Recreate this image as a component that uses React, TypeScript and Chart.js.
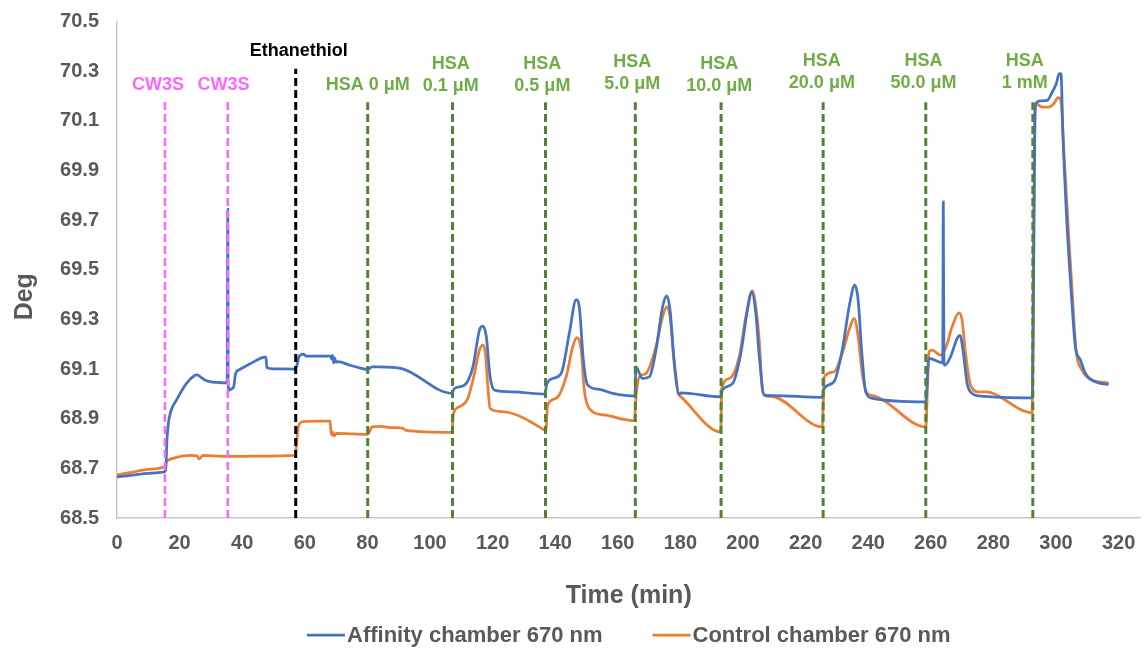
import { useEffect, useRef } from 'react';
import { Chart, registerables } from 'chart.js';

Chart.register(...registerables);

const FONT = '"Liberation Sans", Arial, Helvetica, sans-serif';

// ---- Data ----
const affinityTime = [
  0, 5, 10, 15.2, 15.6, 15.9, 16.4, 17.2, 19.0, 22.2, 24.9, 25.6, 27.0, 28.6, 31.8, 35.2, 35.4, 35.5, 35.8, 36.6,
  37.3, 37.9, 39.2, 42.4, 46.7, 47.6, 47.9, 50, 56.9, 57.6, 58.2, 59.5, 60.5, 65, 68.3, 68.6, 68.9, 69.2, 69.5, 70.0,
  70.6, 74.3, 77.5, 80.1, 81.5, 84, 91, 107.0, 107.8, 111, 113.7, 115.8, 116.9, 118, 119.2, 120.6, 126.5, 136.8,
  137.2, 139.2, 141.9, 144.5, 146.7, 147.7, 149, 150.4, 154.1, 158.4, 165.5, 165.8, 166.3, 167.9, 170.1, 172.2,
  174.3, 175.6, 176.7, 178, 179.6, 180.2, 192.9, 193.5, 196.7, 199.3, 201.4, 202.8, 204.1, 205.2, 206.8, 209.4,
  225.3, 225.9, 229.1, 231.7, 234.1, 235.7, 236.8, 237.9, 239.2, 241.3, 258.4, 259.4, 262.6, 263.8, 264.0, 264.2,
  264.5, 266.3, 268.4, 269.3, 270.3, 271.6, 273.2, 275.4, 292.4, 293.3, 293.6, 295, 297.2, 298.8, 300.1, 301,
  301.6, 302.2, 303.5, 304.9, 306.2, 307.8, 309.4, 311.5, 314.2, 316.8,
];
const affinityDeg = [
  68.666, 68.673, 68.68, 68.686, 68.7, 68.8, 68.88, 68.93, 68.975, 69.042, 69.075, 69.077, 69.065, 69.053, 69.046,
  69.044, 69.743, 69.05, 69.015, 69.02, 69.03, 69.082, 69.098, 69.12, 69.147, 69.148, 69.105, 69.101, 69.1, 69.12,
  69.152, 69.16, 69.152, 69.152, 69.152, 69.14, 69.155, 69.125, 69.145, 69.128, 69.13, 69.116, 69.105, 69.098,
  69.109, 69.109, 69.102, 69.002, 69.022, 69.035, 69.109, 69.257, 69.273, 69.23, 69.069, 69.015, 69.008, 68.999,
  69.035, 69.062, 69.082, 69.243, 69.38, 69.35, 69.136, 69.035, 69.018, 69.002, 68.991, 69.109, 69.1, 69.062,
  69.069, 69.176, 69.35, 69.395, 69.337, 69.136, 68.999, 69.004, 68.988, 69.018, 69.042, 69.163, 69.337, 69.411,
  69.324, 69.15, 68.995, 68.993, 68.986, 69.022, 69.049, 69.176, 69.364, 69.438, 69.377, 69.176, 69.008, 68.982,
  68.968, 69.143, 69.129, 69.125, 69.773, 69.12, 69.116, 69.149, 69.223, 69.236, 69.176, 69.042, 69.002, 68.992,
  68.984, 70.1, 70.169, 70.18, 70.182, 70.216, 70.249, 70.289, 70.29, 70.048, 69.686, 69.404, 69.19, 69.136,
  69.082, 69.055, 69.042, 69.038,
];

const controlTime = [
  0, 5, 10, 15.2, 15.8, 16.4, 19.0, 23.3, 25.6, 26.2, 26.8, 27.5, 35, 45, 56.9, 57.4, 57.9, 59.5, 64, 68.0, 68.3,
  68.6, 69.0, 69.4, 70.1, 75, 80.1, 81.5, 84, 88, 91.4, 92.3, 107.0, 107.5, 109.4, 112.1, 114.2, 115.8, 116.9,
  117.7, 118.5, 119.2, 123.3, 136.6, 137.0, 137.6, 140.3, 143.5, 145.6, 146.9, 148.3, 149.3, 150.9, 156.2, 165.3,
  165.9, 166.9, 169, 172.2, 174.3, 175.6, 176.7, 178, 179.3, 180.2, 192.9, 193.2, 195.6, 198.8, 200.9, 203, 204.1,
  205.2, 206.2, 207.3, 210, 225.3, 226.0, 229.1, 231.7, 233.9, 235.5, 236.8, 238.1, 239.7, 241.9, 258.4, 259.4,
  260.5, 263.1, 264.7, 266.8, 269, 270, 271.1, 272.7, 275.4, 277.5, 292.4, 293.2, 293.6, 295.6, 297.7, 299.3,
  300.7, 301.6, 302.5, 303.9, 305.2, 306.4, 308.3, 311, 316.8,
];
const controlDeg = [
  68.674, 68.685, 68.696, 68.706, 68.725, 68.733, 68.744, 68.752, 68.75, 68.737, 68.745, 68.752, 68.748, 68.749,
  68.752, 68.8, 68.867, 68.888, 68.89, 68.89, 68.86, 68.834, 68.845, 68.83, 68.841, 68.839, 68.837, 68.867, 68.869,
  68.864, 68.861, 68.853, 68.845, 68.921, 68.948, 68.982, 69.082, 69.176, 69.196, 69.163, 69.028, 68.941, 68.928,
  68.854, 68.85, 68.955, 68.982, 69.069, 69.19, 69.227, 69.176, 69.015, 68.941, 68.914, 68.892, 69.0, 69.069,
  69.082, 69.19, 69.31, 69.35, 69.31, 69.122, 69.002, 68.988, 68.847, 69.02, 69.062, 69.149, 69.31, 69.415, 69.35,
  69.216, 69.015, 68.992, 68.988, 68.867, 69.069, 69.089, 69.163, 69.257, 69.304, 69.23, 69.082, 69.002, 68.992,
  68.867, 69.169, 69.176, 69.156, 69.183, 69.27, 69.326, 69.297, 69.163, 69.035, 69.008, 69.008, 68.924, 70.162,
  70.169, 70.155, 70.155, 70.169, 70.193, 70.18, 69.981, 69.672, 69.404, 69.176, 69.096, 69.058, 69.044,
];

const seriesNames = ['Affinity chamber 670 nm', 'Control chamber 670 nm'];

// Injection markers (vertical dashed lines)
const markerTime = [15.3, 35.4, 57.1, 80.1, 107.2, 136.9, 165.6, 193.0, 225.6, 258.4, 292.6];
const markerTop = [70.182, 70.182, 70.31, 70.175, 70.175, 70.175, 70.175, 70.175, 70.175, 70.175, 70.175];
const markerKind = ['cw3s', 'cw3s', 'thiol', 'hsa', 'hsa', 'hsa', 'hsa', 'hsa', 'hsa', 'hsa', 'hsa'];
const markerLabel = [
  ['CW3S'], ['CW3S'], ['Ethanethiol'], ['HSA 0 μM'], ['HSA', '0.1 μM'], ['HSA', '0.5 μM'], ['HSA', '5.0 μM'],
  ['HSA', '10.0 μM'], ['HSA', '20.0 μM'], ['HSA', '50.0 μM'], ['HSA', '1 mM'],
];
// label anchor (centre of last text line), in axis units
const labelTime = [13.1, 34.0, 58.1, 80.1, 106.6, 135.9, 164.6, 192.4, 225.2, 257.7, 290.0];
const labelDeg = [70.246, 70.246, 70.383, 70.246, 70.242, 70.242, 70.25, 70.242, 70.254, 70.254, 70.254];

const xTicks = [0, 20, 40, 60, 80, 100, 120, 140, 160, 180, 200, 220, 240, 260, 280, 300, 320];
const yTicks = [68.5, 68.7, 68.9, 69.1, 69.3, 69.5, 69.7, 69.9, 70.1, 70.3, 70.5];

const X_MIN = 0;
const X_MAX = 327;
const Y_MIN = 68.5;
const Y_MAX = 70.5;

const LINE_COLORS = ['#4472C4', '#ED7D31'];
const MARKER_COLOR: Record<string, string> = { cw3s: '#FF66FF', thiol: '#000000', hsa: '#548235' };
const LABEL_COLOR: Record<string, string> = { cw3s: '#FF66FF', thiol: '#000000', hsa: '#70AD47' };
const TEXT_GRAY = '#595959';

const annotationPlugin = {
  id: 'injectionLabels',
  afterDatasetsDraw(chart: any) {
    const { ctx, scales, chartArea } = chart;
    const xs = scales.x;
    const ys = scales.y;
    ctx.save();
    ctx.font = `bold 18px ${FONT}`;
    ctx.textAlign = 'center';
    ctx.textBaseline = 'middle';
    markerLabel.forEach((lines, i) => {
      const x = xs.getPixelForValue(labelTime[i]);
      const yLast = ys.getPixelForValue(labelDeg[i]);
      ctx.fillStyle = LABEL_COLOR[markerKind[i]];
      lines.forEach((txt, j) => {
        const y = yLast - (lines.length - 1 - j) * 22;
        ctx.fillText(txt, x, y);
      });
    });
    // y-axis title
    ctx.fillStyle = TEXT_GRAY;
    ctx.font = `bold 25px ${FONT}`;
    ctx.translate(25, (chartArea.top + chartArea.bottom) / 2 + 27);
    ctx.rotate(-Math.PI / 2);
    ctx.fillText('Deg', 0, 0);
    ctx.restore();
  },
};

const legendPlugin = {
  id: 'bottomLegend',
  afterDraw(chart: any) {
    const { ctx, chartArea } = chart;
    const items = chart.data.datasets.filter((d: any) => !d.isMarker);
    ctx.save();
    ctx.font = `bold 22px ${FONT}`;
    ctx.textBaseline = 'middle';
    ctx.textAlign = 'left';
    const lineW = 38;
    const gapText = 2;
    const gapItem = 50;
    const widths = items.map((d: any) => lineW + gapText + ctx.measureText(d.label).width);
    const total = widths.reduce((a: number, b: number) => a + b, 0) + gapItem * (items.length - 1);
    let x = (chartArea.left + chartArea.right) / 2 - total / 2;
    const y = 635;
    items.forEach((d: any, i: number) => {
      ctx.strokeStyle = d.borderColor;
      ctx.lineWidth = 2.75;
      ctx.setLineDash([]);
      ctx.beginPath();
      ctx.moveTo(x, y);
      ctx.lineTo(x + lineW, y);
      ctx.stroke();
      ctx.fillStyle = TEXT_GRAY;
      ctx.fillText(d.label, x + lineW + gapText, y + 1);
      x += widths[i] + gapItem;
    });
    ctx.restore();
  },
};

export default function App() {
  const canvasRef = useRef<HTMLCanvasElement>(null);

  useEffect(() => {
    const canvas = canvasRef.current;
    if (!canvas) return;

    const toPoints = (ts: number[], vs: number[]) => ts.map((t, i) => ({ x: t, y: vs[i] }));

    const markerSets = markerTime.map((t, i) => ({
      type: 'line' as const,
      label: '',
      isMarker: true,
      data: [
        { x: t, y: Y_MIN },
        { x: t, y: markerTop[i] },
      ],
      borderColor: MARKER_COLOR[markerKind[i]],
      borderWidth: markerKind[i] === 'cw3s' ? 2.5 : 3,
      borderDash: [8, 4],
      pointRadius: 0,
      fill: false,
      order: 0,
    }));

    const chart = new Chart(canvas, {
      type: 'line',
      data: {
        datasets: [
          {
            label: seriesNames[0],
            data: toPoints(affinityTime, affinityDeg),
            borderColor: LINE_COLORS[0],
            backgroundColor: LINE_COLORS[0],
            borderWidth: 2.75,
            pointRadius: 0,
            cubicInterpolationMode: 'monotone',
            fill: false,
            order: 1,
          },
          {
            label: seriesNames[1],
            data: toPoints(controlTime, controlDeg),
            borderColor: LINE_COLORS[1],
            backgroundColor: LINE_COLORS[1],
            borderWidth: 2.75,
            pointRadius: 0,
            cubicInterpolationMode: 'monotone',
            fill: false,
            order: 2,
          },
          ...markerSets,
        ] as any,
      },
      options: {
        responsive: false,
        animation: false,
        devicePixelRatio: 1,
        parsing: false as any,
        layout: { padding: { top: 21.5, right: 4.5, bottom: 0, left: 0 } },
        plugins: {
          legend: { display: false },
          tooltip: { enabled: false },
          title: { display: false },
        },
        scales: {
          x: {
            type: 'linear',
            min: X_MIN,
            max: X_MAX,
            grid: { display: false, drawTicks: false },
            border: { display: true, color: '#c8c8c8', width: 1.5 },
            ticks: {
              color: TEXT_GRAY,
              font: { family: FONT, size: 20, weight: 'bold' },
              padding: 13,
              maxRotation: 0,
              autoSkip: false,
              callback: (v: any) => String(v),
            },
            afterBuildTicks: (scale: any) => {
              scale.ticks = xTicks.map((v) => ({ value: v }));
            },
            afterFit: (scale: any) => {
              scale.height = 132;
              scale.paddingLeft = 0;
              scale.paddingRight = 0;
            },
            title: {
              display: true,
              text: 'Time (min)',
              color: TEXT_GRAY,
              font: { family: FONT, size: 25, weight: 'bold' },
              padding: { top: 0, bottom: 39 },
            },
          },
          y: {
            type: 'linear',
            min: Y_MIN,
            max: Y_MAX,
            grid: { display: false, drawTicks: false },
            border: { display: true, color: '#c8c8c8', width: 1.5 },
            ticks: {
              color: TEXT_GRAY,
              font: { family: FONT, size: 20, weight: 'bold' },
              padding: 18,
              autoSkip: false,
              callback: (v: any) => Number(v).toFixed(1),
            },
            afterBuildTicks: (scale: any) => {
              scale.ticks = yTicks.map((v) => ({ value: v }));
            },
            afterFit: (scale: any) => {
              scale.width = 117;
              scale.paddingTop = 0;
              scale.paddingBottom = 0;
            },
          },
        },
      } as any,
      plugins: [annotationPlugin, legendPlugin],
    });

    return () => {
      chart.destroy();
    };
  }, []);

  return (
    <div style={{ position: 'fixed', left: 0, top: 0, width: 1145, height: 650, background: '#ffffff' }}>
      <canvas ref={canvasRef} width={1145} height={650} style={{ width: 1145, height: 650, display: 'block' }} />
    </div>
  );
}
